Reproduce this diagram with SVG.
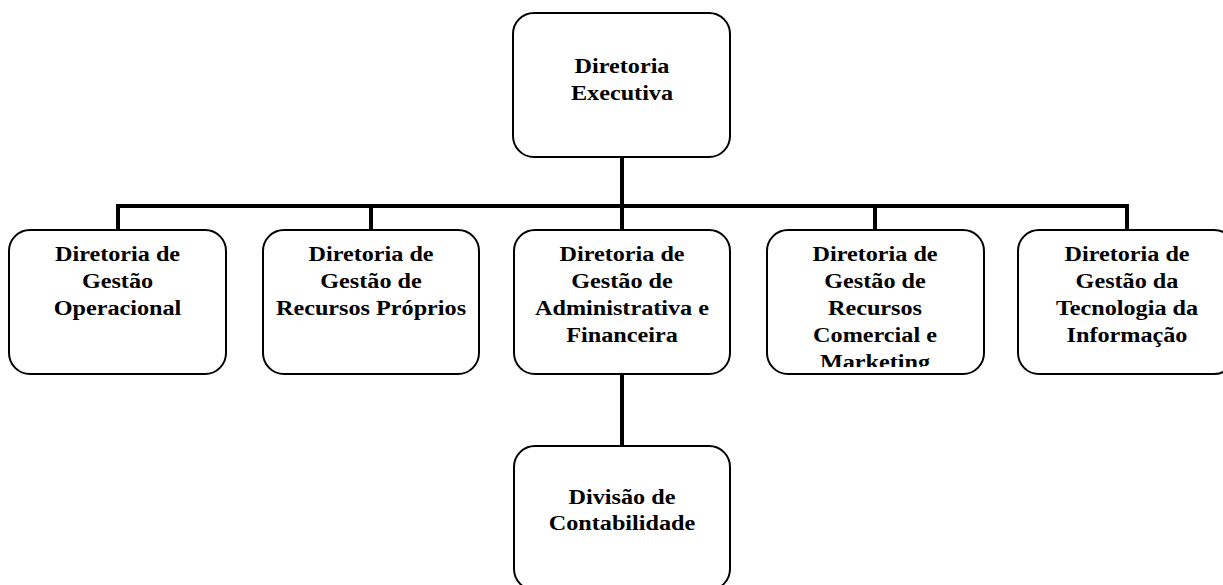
<svg xmlns="http://www.w3.org/2000/svg" width="1223" height="585" viewBox="0 0 1223 585">
  <style>
    .box { fill: #ffffff; stroke: #000000; stroke-width: 2; }
    .lbl { font-family: "Liberation Serif", "Times New Roman", serif; font-weight: bold; font-size: 22px; fill: #000000; text-anchor: middle; }
    .conn { fill: none; stroke: #000000; stroke-width: 4; stroke-linecap: butt; }
  </style>
  <defs>
    <clipPath id="clip4">
      <rect x="767" y="230" width="217" height="137"/>
    </clipPath>
  </defs>
  <rect x="0" y="0" width="1223" height="585" fill="#ffffff"/>

  <g id="connectors">
    <path class="conn" d="M622 157 V206"/>
    <path class="conn" d="M116 206 H1129"/>
    <path class="conn" d="M118 206 V230"/>
    <path class="conn" d="M371 206 V230"/>
    <path class="conn" d="M622 206 V230"/>
    <path class="conn" d="M875 206 V230"/>
    <path class="conn" d="M1127 206 V230"/>
    <path class="conn" d="M622 374 V446"/>
  </g>

  <g id="node-executiva">
    <rect class="box" x="513" y="13" width="217" height="144" rx="21" ry="21"/>
    <text class="lbl" transform="matrix(1.1 0 0 1 622 0)"><tspan x="0" y="73">Diretoria</tspan><tspan x="0" y="100">Executiva</tspan></text>
  </g>

  <g id="node-operacional">
    <rect class="box" x="9" y="230" width="217" height="144" rx="21" ry="21"/>
    <text class="lbl" transform="matrix(1.1 0 0 1 117.5 0)"><tspan x="0" y="261">Diretoria de</tspan><tspan x="0" y="288">Gestão</tspan><tspan x="0" y="315">Operacional</tspan></text>
  </g>

  <g id="node-recursos-proprios">
    <rect class="box" x="263" y="230" width="216" height="144" rx="21" ry="21"/>
    <text class="lbl" transform="matrix(1.1 0 0 1 371 0)"><tspan x="0" y="261">Diretoria de</tspan><tspan x="0" y="288">Gestão de</tspan><tspan x="0" y="315">Recursos Próprios</tspan></text>
  </g>

  <g id="node-administrativa">
    <rect class="box" x="514" y="230" width="216" height="144" rx="21" ry="21"/>
    <text class="lbl" transform="matrix(1.1 0 0 1 622 0)"><tspan x="0" y="261">Diretoria de</tspan><tspan x="0" y="288">Gestão de</tspan><tspan x="0" y="315">Administrativa e</tspan><tspan x="0" y="342">Financeira</tspan></text>
  </g>

  <g id="node-comercial">
    <rect class="box" x="767" y="230" width="217" height="144" rx="21" ry="21"/>
    <g clip-path="url(#clip4)">
      <text class="lbl" transform="matrix(1.1 0 0 1 875 0)"><tspan x="0" y="261">Diretoria de</tspan><tspan x="0" y="288">Gestão de</tspan><tspan x="0" y="315">Recursos</tspan><tspan x="0" y="342">Comercial e</tspan><tspan x="0" y="369">Marketing</tspan></text>
    </g>
  </g>

  <g id="node-tecnologia">
    <rect class="box" x="1018" y="230" width="217" height="144" rx="21" ry="21"/>
    <text class="lbl" transform="matrix(1.1 0 0 1 1127 0)"><tspan x="0" y="261">Diretoria de</tspan><tspan x="0" y="288">Gestão da</tspan><tspan x="0" y="315">Tecnologia da</tspan><tspan x="0" y="342">Informação</tspan></text>
  </g>

  <g id="node-contabilidade">
    <rect class="box" x="514" y="446" width="216" height="144" rx="21" ry="21"/>
    <text class="lbl" transform="matrix(1.1 0 0 1 622 0)"><tspan x="0" y="504">Divisão de</tspan><tspan x="0" y="530">Contabilidade</tspan></text>
  </g>
</svg>
